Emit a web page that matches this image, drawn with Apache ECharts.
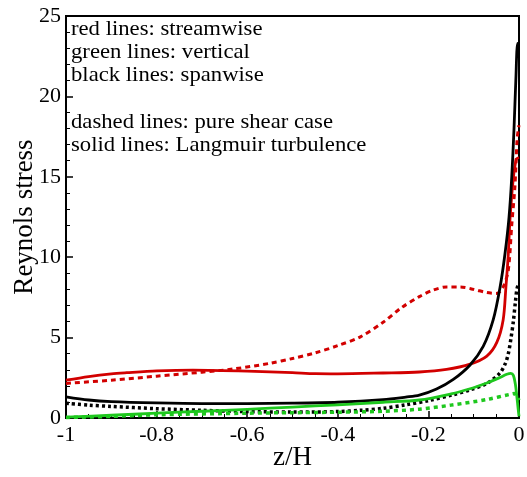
<!DOCTYPE html>
<html>
<head>
<meta charset="utf-8">
<script src="https://cdn.jsdelivr.net/npm/echarts@6/dist/echarts.min.js"></script>
<style>
html,body{margin:0;padding:0;background:#fff;}
#chart{width:527px;height:477px;}
</style>
</head>
<body>
<div id="chart"></div>
<script>
// Red solid: streamwise, Langmuir turbulence
const zRedSolid = [-1, -0.95, -0.9, -0.866, -0.8, -0.72, -0.6, -0.5, -0.45, -0.4, -0.3, -0.22, -0.16, -0.108, -0.071, -0.049, -0.035, -0.029, -0.0236, -0.02, -0.013, -0.006, 0];
const redSolid  = [2.35, 2.58, 2.75, 2.82, 2.93, 2.98, 2.92, 2.82, 2.76, 2.75, 2.8, 2.86, 3.02, 3.35, 3.85, 4.7, 6.1, 8.1, 10.2, 12.3, 14.8, 16.1, 16.2];
// Red dashed: streamwise, pure shear case
const zRedDash = [-1, -0.9, -0.8, -0.7, -0.63, -0.55, -0.5, -0.45, -0.4, -0.35, -0.3, -0.26, -0.22, -0.19, -0.16, -0.13, -0.1, -0.071, -0.049, -0.035, -0.0236, -0.016, -0.009, -0.004, 0];
const redDash  = [2.15, 2.35, 2.6, 2.85, 3.05, 3.4, 3.7, 4.05, 4.5, 5.05, 5.95, 6.85, 7.55, 7.95, 8.15, 8.15, 8.0, 7.8, 7.75, 8.15, 9.2, 12.0, 14.4, 17.4, 18.2];
// Black solid: spanwise, Langmuir turbulence
const zBlackSolid = [-1, -0.95, -0.9, -0.8, -0.7, -0.6, -0.5, -0.4, -0.3, -0.25, -0.22, -0.182, -0.145, -0.108, -0.079, -0.057, -0.042, -0.031, -0.022, -0.016, -0.011, -0.007, -0.003, 0];
const blackSolid  = [1.32, 1.12, 1.02, 0.94, 0.9, 0.9, 0.92, 0.98, 1.14, 1.3, 1.42, 1.8, 2.4, 3.3, 4.45, 6.1, 8.1, 10.2, 12.5, 15.0, 18.0, 21.0, 23.3, 23.3];
// Black dotted: spanwise, pure shear case
const zBlackDot = [-1, -0.95, -0.9, -0.8, -0.7, -0.6, -0.5, -0.4, -0.35, -0.3, -0.25, -0.2, -0.145, -0.108, -0.071, -0.042, -0.03, -0.0236, -0.018, -0.0125, -0.008, -0.004, 0];
const blackDot  = [0.92, 0.8, 0.72, 0.58, 0.48, 0.4, 0.37, 0.4, 0.48, 0.6, 0.82, 1.08, 1.45, 1.75, 2.15, 2.8, 3.4, 4.0, 4.9, 6.0, 7.2, 8.1, 8.3];
// Green solid: vertical, Langmuir turbulence
const zGreenSolid = [-1, -0.9, -0.8, -0.7, -0.6, -0.5, -0.4, -0.3, -0.22, -0.15, -0.108, -0.071, -0.045, -0.027, -0.018, -0.0125, -0.008, -0.005, -0.002, 0];
const greenSolid  = [0.06, 0.17, 0.3, 0.42, 0.54, 0.68, 0.82, 0.98, 1.12, 1.5, 1.82, 2.18, 2.48, 2.72, 2.78, 2.65, 2.1, 1.4, 0.6, 0.1];
// Green dotted: vertical, pure shear case
const zGreenDot = [-1, -0.9, -0.8, -0.6, -0.5, -0.4, -0.3, -0.22, -0.15, -0.071, -0.02, -0.01, -0.005, 0];
const greenDot  = [0.03, 0.1, 0.2, 0.3, 0.33, 0.36, 0.42, 0.55, 0.8, 1.15, 1.47, 1.52, 1.35, 1.1];
// Axis ticks
const xTicks = [-1, -0.8, -0.6, -0.4, -0.2, 0];
const yTicks = [0, 5, 10, 15, 20, 25];
// Annotation lines
const notes = ['red lines: streamwise', 'green lines: vertical', 'black lines: spanwise', '', 'dashed lines: pure shear case', 'solid lines: Langmuir turbulence'];

const pairs = (xs, ys) => xs.map((x, i) => [x, ys[i]]);
const FONT = '"Liberation Serif", "DejaVu Serif", serif';
const RED = '#d20000', GREEN = '#1ec81e', BLACK = '#000000';

function line(name, xs, ys, color, width, type) {
  return {
    name: name, type: 'line', data: pairs(xs, ys), showSymbol: false, symbol: 'none',
    smooth: 0.3,
    lineStyle: { color: color, width: width, type: type, join: 'round', cap: 'butt' },
    z: 3
  };
}

const chart = echarts.init(document.getElementById('chart'), null, { renderer: 'canvas' });
const noteGraphics = notes.map((t, i) => ({
  type: 'text', x: 71, y: 19 + i * 23.2, scaleX: 1.08,
  style: { text: t, font: '21px ' + FONT, fill: '#000' }, z: 10
}));

chart.setOption({
  animation: false,
  backgroundColor: '#fff',
  grid: { left: 66, right: 8, top: 16, bottom: 59, outerBoundsMode: 'none', containLabel: false,
    show: true, borderColor: '#000', borderWidth: 2, backgroundColor: 'transparent' },
  xAxis: {
    type: 'value', min: xTicks[0], max: xTicks[xTicks.length - 1], interval: 0.2,
    name: 'z/H', nameLocation: 'middle', nameGap: 26, nameMoveOverlap: false,
    nameTextStyle: { fontFamily: FONT, fontSize: 27, color: '#000' },
    axisLine: { show: true, onZero: false, lineStyle: { color: '#000', width: 2 } },
    axisTick: { show: true, inside: true, length: 7, lineStyle: { color: '#000', width: 1.5 } },
    minorTick: { show: true, splitNumber: 4, length: 4, lineStyle: { color: '#000', width: 1 } },
    splitLine: { show: false },
    axisLabel: { fontFamily: FONT, fontSize: 22, color: '#000', margin: 6,
      formatter: v => String(Math.round(v * 10) / 10) }
  },
  yAxis: {
    type: 'value', min: yTicks[0], max: yTicks[yTicks.length - 1], interval: 5,
    name: 'Reynols stress', nameLocation: 'middle', nameGap: 28, nameRotate: 90, nameMoveOverlap: false,
    nameTextStyle: { fontFamily: FONT, fontSize: 27, color: '#000' },
    axisLine: { show: true, onZero: false, lineStyle: { color: '#000', width: 2 } },
    axisTick: { show: true, inside: true, length: 7, lineStyle: { color: '#000', width: 1.5 } },
    minorTick: { show: true, splitNumber: 5, length: 4, lineStyle: { color: '#000', width: 1 } },
    splitLine: { show: false },
    axisLabel: { fontFamily: FONT, fontSize: 22, color: '#000', margin: 5 }
  },
  graphic: noteGraphics,
  series: [
    line('red dashed', zRedDash, redDash, RED, 3, [5, 4]),
    line('red solid', zRedSolid, redSolid, RED, 2.8, 'solid'),
    line('black dotted', zBlackDot, blackDot, BLACK, 3.5, [3, 3]),
    line('black solid', zBlackSolid, blackSolid, BLACK, 2.8, 'solid'),
    line('green dotted', zGreenDot, greenDot, GREEN, 3.5, [4, 4]),
    line('green solid', zGreenSolid, greenSolid, GREEN, 2.8, 'solid')
  ]
});
</script>
</body>
</html>
